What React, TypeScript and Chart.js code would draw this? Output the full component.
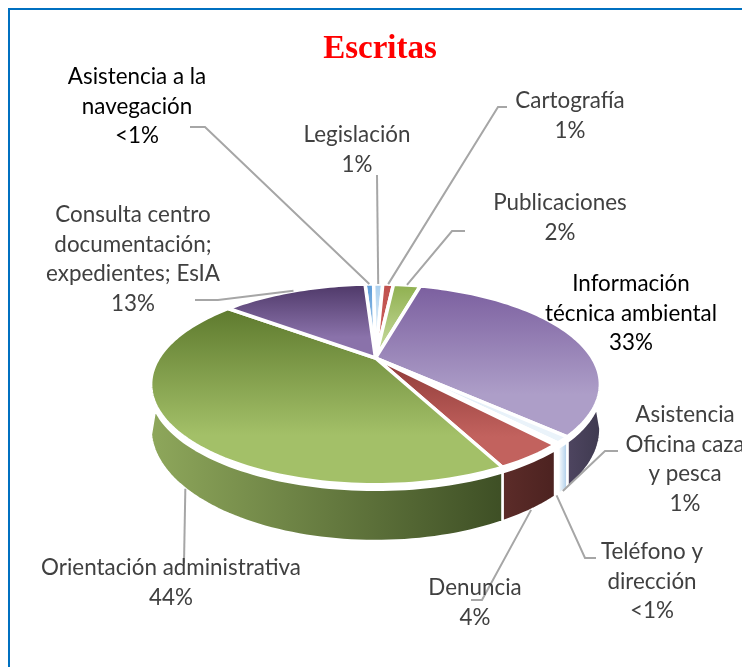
import React, { useEffect, useRef } from "react";
import { Chart, registerables } from "chart.js";

Chart.register(...registerables);

const categories = [
  "Asistencia a la navegación",
  "Legislación",
  "Cartografía",
  "Publicaciones",
  "Información técnica ambiental",
  "Asistencia Oficina caza y pesca",
  "Teléfono y dirección",
  "Denuncia",
  "Orientación administrativa",
  "Consulta centro documentación; expedientes; EsIA",
];
const values = [0.8, 0.85, 1, 2.5, 33, 1, 0.3, 4.2, 43, 13.5];
const percentLabels = ["<1%", "1%", "1%", "2%", "33%", "1%", "<1%", "4%", "44%", "13%"];

const darkColors = ["#5b9bd8", "#a9cfee", "#c0504d", "#8fb04f", "#7b5f9f", "#d5e6f4", "#f4f8fc", "#8e3a37", "#5e7a2e", "#4e3868"];
const lightColors = ["#a4c8e8", "#e8f2fa", "#c9605c", "#bcd28e", "#ad9ec8", "#eaf3fa", "#fbfdfe", "#c2625e", "#a3c068", "#8a72aa"];
const wallLeftColors = ["#3a6ea0", "#8fbbe2", "#632a28", "#6f8a3d", "#4e4560", "#ffffff", "#ffffff", "#5c2c29", "#8ea75b", "#3d2d52"];
const wallRightColors = ["#3a6ea0", "#8fbbe2", "#632a28", "#6f8a3d", "#3f3a50", "#a9cbe8", "#ffffff", "#4c2220", "#3e4f25", "#3d2d52"];

const labelLines = [
  ["Asistencia a la", "navegación", "<1%"],
  ["Legislación", "1%"],
  ["Cartografía", "1%"],
  ["Publicaciones", "2%"],
  ["Información", "técnica ambiental", "33%"],
  ["Asistencia", "Oficina caza", "y pesca", "1%"],
  ["Teléfono y", "dirección", "<1%"],
  ["Denuncia", "4%"],
  ["Orientación administrativa", "44%"],
  ["Consulta centro", "documentación;", "expedientes; EsIA", "13%"],
];
const labelCenterX = [137, 357, 570, 560, 631, 685, 652, 475, 171, 133];
const labelFirstY = [77, 135, 101, 203, 284, 415, 552, 588, 568, 215];
const labelInk = ["#000000", "#404040", "#404040", "#404040", "#000000", "#404040", "#404040", "#404040", "#404040", "#404040"];
// leader routes outwards from the slice: elbow, then end. null = no leader
const leaderRoutes: (number[][] | null)[] = [
  [[205, 127], [190, 127]],
  [[377, 175]],
  [[498, 107], [507, 107]],
  [[452, 231], [465, 231]],
  null,
  [[605, 451], [618, 451]],
  [[585, 558], [596, 558]],
  [[482, 600], [471, 600]],
  [[184, 563]],
  [[218, 300], [195, 300]],
];
const leaderFromWallBase = [false, false, false, false, false, true, true, true, true, false];
const leaderAngleNudge = [0, 0, 0, 0, 0, 0, 0, 0, -5, 0];

// perspective of the disc
const APEX_X = 375.5, APEX_Y = 358, SCALE_X = 217, SCALE_Y = 93.5, TILT = 0.2626, DEPTH = 41.5;
const TOP_WALL_FROM = 115, TOP_WALL_TO = 244, BASE_WALL_FROM = 105, BASE_WALL_TO = 252, WALL_GAP = 5;

const rad = (d: number) => (d * Math.PI) / 180;
function rim(deg: number, base = false, gap = 0) {
  const x = Math.sin(rad(deg));
  const y = -Math.cos(rad(deg));
  const w = 1 - TILT * y;
  return {
    x: APEX_X + (SCALE_X * x) / w,
    y: APEX_Y + (SCALE_Y * y) / w + (base ? DEPTH / w : 0) + gap,
  };
}
function arcPoints(from: number, to: number, base = false, gap = 0) {
  const pts = [];
  const n = Math.max(2, Math.ceil(Math.abs(to - from) / 1.5));
  for (let i = 0; i <= n; i++) pts.push(rim(from + ((to - from) * i) / n, base, gap));
  return pts;
}
function trace(ctx: CanvasRenderingContext2D, pts: { x: number; y: number }[]) {
  ctx.beginPath();
  pts.forEach((p, i) => (i ? ctx.lineTo(p.x, p.y) : ctx.moveTo(p.x, p.y)));
  ctx.closePath();
}

const pie3d = {
  id: "pie3d",
  beforeDatasetDraw(chart: any) {
    const ctx: CanvasRenderingContext2D = chart.ctx;
    const arcs = chart.getDatasetMeta(0).data;
    const spans = arcs.map((a: any) => {
      const s = (a.startAngle * 180) / Math.PI + 90;
      const e = (a.endAngle * 180) / Math.PI + 90;
      return [s, e];
    });
    ctx.save();
    ctx.lineJoin = "round";
    // side walls
    spans.forEach(([s, e]: number[], i: number) => {
      const s0 = s < 0 ? s + 360 : s;
      const e0 = s < 0 ? e + 360 : e;
      const bf = Math.max(s0, BASE_WALL_FROM), bt = Math.min(e0, BASE_WALL_TO);
      if (bf >= bt) return;
      const tf = Math.max(s0, TOP_WALL_FROM), tt = Math.min(e0, TOP_WALL_TO);
      const pts = [
        ...(tf < tt ? arcPoints(tf, tt, false, WALL_GAP) : []),
        ...arcPoints(bt, bf, true),
      ];
      const xs = pts.map((p) => p.x);
      const g = ctx.createLinearGradient(Math.min(...xs), 0, Math.max(...xs), 0);
      g.addColorStop(0, wallLeftColors[i]);
      g.addColorStop(1, wallRightColors[i]);
      trace(ctx, pts);
      ctx.fillStyle = g;
      ctx.fill();
      ctx.strokeStyle = "#ffffff";
      ctx.lineWidth = 2.5;
      ctx.stroke();
    });
    // top faces
    spans.forEach(([s, e]: number[], i: number) => {
      const pts = [{ x: APEX_X, y: APEX_Y }, ...arcPoints(s, e)];
      const ys = pts.map((p) => p.y);
      const minY = Math.min(...ys), maxY = Math.max(...ys);
      const g = ctx.createLinearGradient(0, minY, 0, maxY);
      g.addColorStop(0, darkColors[i]);
      g.addColorStop(0.72, lightColors[i]);
      g.addColorStop(1, lightColors[i]);
      trace(ctx, pts);
      ctx.fillStyle = g;
      ctx.fill();
      ctx.strokeStyle = "#ffffff";
      ctx.lineWidth = 3.5;
      ctx.stroke();
    });
    ctx.restore();
    return false;
  },
  afterDatasetsDraw(chart: any) {
    const ctx: CanvasRenderingContext2D = chart.ctx;
    const arcs = chart.getDatasetMeta(0).data;
    ctx.save();
    ctx.strokeStyle = "#a6a6a6";
    ctx.lineWidth = 2;
    arcs.forEach((a: any, i: number) => {
      const route = leaderRoutes[i];
      if (!route) return;
      const mid = (((a.startAngle + a.endAngle) / 2) * 180) / Math.PI + 90 + leaderAngleNudge[i];
      const start = rim(mid, leaderFromWallBase[i]);
      ctx.beginPath();
      ctx.moveTo(start.x, start.y);
      route.forEach(([x, y]) => ctx.lineTo(x, y));
      ctx.stroke();
    });
    ctx.font = '22.4px Lato, "Noto Sans", sans-serif';
    ctx.textAlign = "center";
    ctx.textBaseline = "middle";
    labelLines.forEach((lines, i) => {
      ctx.fillStyle = labelInk[i];
      lines.forEach((t, j) => ctx.fillText(t, labelCenterX[i], labelFirstY[i] + j * 29.5));
    });
    ctx.restore();
  },
};

export default function App() {
  const ref = useRef<HTMLCanvasElement>(null);
  useEffect(() => {
    document.body.style.background = "#ffffff";
    const chart = new Chart(ref.current as HTMLCanvasElement, {
      type: "pie",
      data: {
        labels: categories.map((c, i) => `${c} ${percentLabels[i]}`),
        datasets: [{ data: values, backgroundColor: lightColors, borderColor: "#ffffff", borderWidth: 3 }],
      },
      options: {
        responsive: false,
        animation: false,
        rotation: -3.5,
        layout: { padding: { left: 18 } },
        plugins: {
          legend: { display: false },
          tooltip: { enabled: false },
          title: {
            display: true,
            text: "Escritas",
            color: "#ff0000",
            font: { family: '"Liberation Serif", serif', size: 33, weight: "bold" },
            padding: { top: 30, bottom: 10 },
          },
        },
      },
      plugins: [pie3d],
    } as any);
    return () => chart.destroy();
  }, []);
  return (
    <div style={{ position: "fixed", left: 0, top: 0, width: 742, height: 667, overflow: "hidden", background: "#fff" }}>
      <canvas ref={ref} width={742} height={667} style={{ display: "block" }} />
      <div
        style={{
          position: "absolute",
          left: 8,
          top: 8,
          width: 800,
          height: 800,
          borderLeft: "2.5px solid #0070c0",
          borderTop: "2.5px solid #0070c0",
          pointerEvents: "none",
        }}
      />
    </div>
  );
}
